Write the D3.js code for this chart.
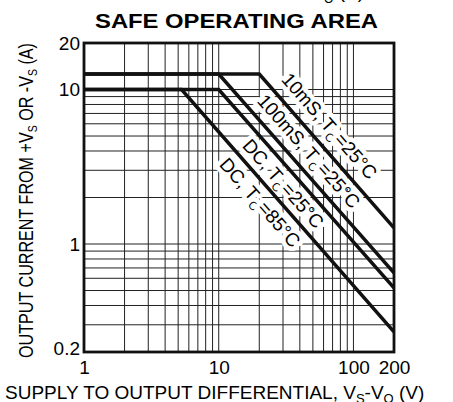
<!DOCTYPE html>
<html>
<head>
<meta charset="utf-8">
<script src="https://cdn.jsdelivr.net/npm/d3@7"></script>
<style>
  body { margin: 0; background: #fff; }
  text { font-family: "Liberation Sans", Arial, Helvetica, sans-serif; }
</style>
</head>
<body>
<script>
const width = 453;
const height = 402;

// axis ticks and grid
const xTicks = [1, 10, 100, 200];
const yTicks = [0.2, 1, 10, 20];
const xGrid = [2, 3, 4, 5, 6, 7, 8, 9, 10, 20, 30, 40, 50, 60, 70, 80, 90, 100];
const yGrid = [0.3, 0.4, 0.5, 0.6, 0.7, 0.8, 0.9, 1, 2, 3, 4, 5, 6, 7, 8, 9, 10];

// SOA curves (volts, amps)
const v10ms = [1, 20, 200];
const i10ms = [12.6, 12.6, 1.27];
const v100ms = [1, 10, 200];
const i100ms = [12.6, 12.6, 0.65];
const vDc25 = [1, 10, 200];
const iDc25 = [10, 10, 0.52];
const vDc85 = [1, 5.3, 200];
const iDc85 = [10, 10, 0.27];

const curveNames = ['10mS', '100mS', 'DC', 'DC'];
const curveTemps = ['25', '25', '25', '85'];

const svg = d3.select('body')
  .append('svg')
  .attr('width', width)
  .attr('height', height);

const pLeft = 84, pRight = 394, pTop = 43, pBottom = 352;

const x = d3.scaleLog().domain([1, 200]).range([pLeft, pRight]);
const y = d3.scaleLog().domain([0.2, 20]).range([pBottom, pTop]);

// title
svg.append('text')
  .attr('x', 95)
  .attr('y', 28)
  .attr('font-size', 21)
  .attr('font-weight', 'bold')
  .attr('textLength', 283)
  .attr('lengthAdjust', 'spacingAndGlyphs')
  .text('SAFE OPERATING AREA');

// cut-off line above the title
const cut = svg.append('text')
  .attr('x', 364)
  .attr('y', -2)
  .attr('font-size', 19)
  .attr('text-anchor', 'end');
cut.append('tspan').text('I');
cut.append('tspan').attr('font-size', 12).attr('dy', 5).text('O');
cut.append('tspan').attr('dy', -5).text(' (A)');

// grid
svg.append('g')
  .selectAll('line')
  .data(xGrid)
  .enter()
  .append('line')
  .attr('x1', d => x(d))
  .attr('x2', d => x(d))
  .attr('y1', pTop)
  .attr('y2', pBottom)
  .attr('stroke', '#222')
  .attr('stroke-width', 1);

svg.append('g')
  .selectAll('line')
  .data(yGrid)
  .enter()
  .append('line')
  .attr('x1', pLeft)
  .attr('x2', pRight)
  .attr('y1', d => y(d))
  .attr('y2', d => y(d))
  .attr('stroke', '#222')
  .attr('stroke-width', 1);

// log-log interpolation along a curve
function valueAt(vs, is, v) {
  for (let k = 1; k < vs.length; k++) {
    if (v <= vs[k]) {
      const t = Math.log(v / vs[k - 1]) / Math.log(vs[k] / vs[k - 1]);
      return Math.exp(Math.log(is[k - 1]) + t * Math.log(is[k] / is[k - 1]));
    }
  }
  return is[is.length - 1];
}

const curves = [
  { v: v10ms, i: i10ms, at: 24.6, off: 12 },
  { v: v100ms, i: i100ms, at: 16.7, off: 10 },
  { v: vDc25, i: iDc25, at: 19.2, off: -20.5 },
  { v: vDc85, i: iDc85, at: 13.2, off: -22 }
];

// curve labels with white backing
curves.forEach((c, k) => {
  const n = c.v.length;
  const dx = x(c.v[n - 1]) - x(c.v[n - 2]);
  const dy = y(c.i[n - 1]) - y(c.i[n - 2]);
  const ang = Math.atan2(dy, dx);
  const px = x(c.at) + c.off * Math.sin(ang);
  const py = y(valueAt(c.v, c.i, c.at)) - c.off * Math.cos(ang);

  const t = svg.append('text')
    .attr('transform', `translate(${px},${py}) rotate(${ang * 180 / Math.PI})`)
    .attr('font-size', 19)
    .attr('stroke', '#fff')
    .attr('stroke-width', 9)
    .attr('stroke-linejoin', 'round')
    .attr('paint-order', 'stroke')
    .attr('fill', '#000');
  t.append('tspan').text(`${curveNames[k]}, T`);
  t.append('tspan').attr('font-size', 12).attr('dy', 5).text('C');
  t.append('tspan').attr('dy', -5).text(`=${curveTemps[k]}°C`);
});

// curves
const line = d3.line()
  .x(d => x(d[0]))
  .y(d => y(d[1]));

svg.append('g')
  .selectAll('path')
  .data(curves)
  .enter()
  .append('path')
  .attr('d', c => line(c.v.map((v, j) => [v, c.i[j]])))
  .attr('fill', 'none')
  .attr('stroke', '#111')
  .attr('stroke-width', 3.5);

// frame
svg.append('rect')
  .attr('x', pLeft)
  .attr('y', pTop)
  .attr('width', pRight - pLeft)
  .attr('height', pBottom - pTop)
  .attr('fill', 'none')
  .attr('stroke', '#111')
  .attr('stroke-width', 2.8);

// axes
const xAxis = svg.append('g')
  .attr('transform', `translate(0,${pBottom})`)
  .call(d3.axisBottom(x).tickValues(xTicks).tickSize(0).tickPadding(9).tickFormat(d => String(d)));
xAxis.select('.domain').remove();
xAxis.selectAll('text')
  .attr('font-size', 19)
  .attr('font-family', '"Liberation Sans", Arial, sans-serif')
  .attr('fill', '#000');

const yAxis = svg.append('g')
  .attr('transform', `translate(${pLeft},0)`)
  .call(d3.axisLeft(y).tickValues(yTicks).tickSize(0).tickPadding(4).tickFormat(d => String(d)));
yAxis.select('.domain').remove();
yAxis.selectAll('text')
  .attr('font-size', 19)
  .attr('font-family', '"Liberation Sans", Arial, sans-serif')
  .attr('fill', '#000');
// lowest label sits a little above its line
yAxis.selectAll('.tick')
  .filter(d => d === 0.2)
  .select('text')
  .attr('y', -4);

// axis titles
const xt = svg.append('text')
  .attr('x', 5)
  .attr('y', 399)
  .attr('font-size', 19);
xt.append('tspan').text('SUPPLY TO OUTPUT DIFFERENTIAL, V');
xt.append('tspan').attr('font-size', 13).attr('dy', 4).text('S');
xt.append('tspan').attr('dy', -4).text('-V');
xt.append('tspan').attr('font-size', 13).attr('dy', 4).text('O');
xt.append('tspan').attr('dy', -4).text(' (V)');

const yt = svg.append('text')
  .attr('transform', 'translate(33,358) rotate(-90)')
  .attr('font-size', 20)
  .attr('textLength', 315)
  .attr('lengthAdjust', 'spacingAndGlyphs');
yt.append('tspan').text('OUTPUT CURRENT FROM +V');
yt.append('tspan').attr('font-size', 13).attr('dy', 4).text('S');
yt.append('tspan').attr('dy', -4).text(' OR -V');
yt.append('tspan').attr('font-size', 13).attr('dy', 4).text('S');
yt.append('tspan').attr('dy', -4).text(' (A)');
</script>
</body>
</html>
